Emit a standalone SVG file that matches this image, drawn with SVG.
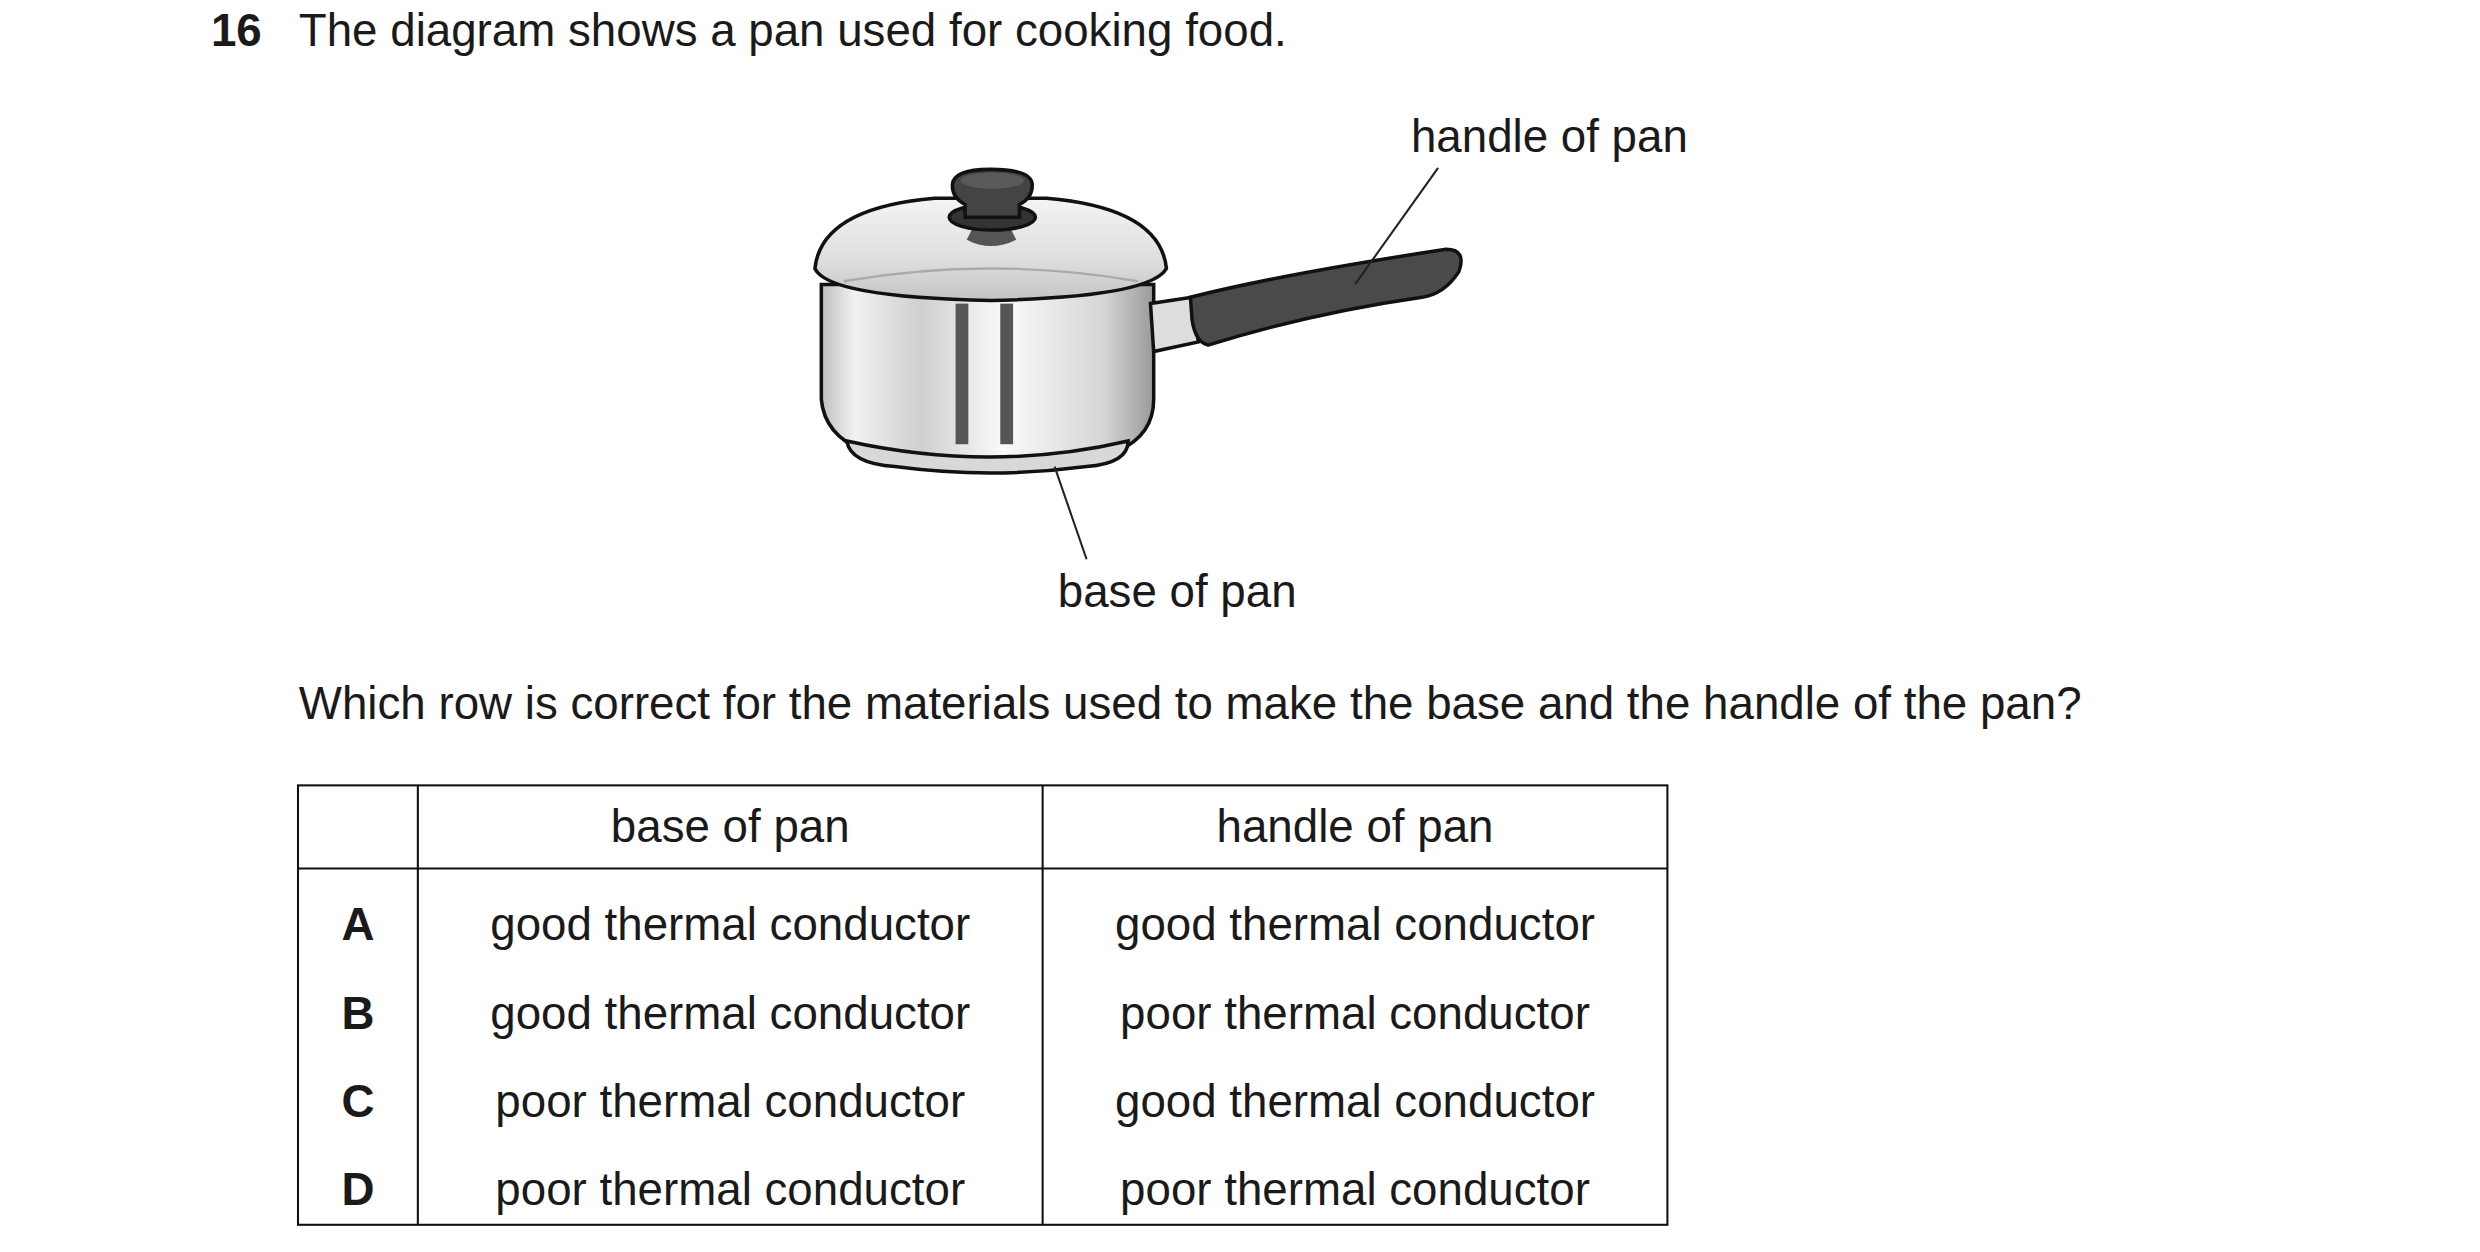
<svg xmlns="http://www.w3.org/2000/svg" width="2480" height="1252" viewBox="0 0 2480 1252">
<style>
text{font-family:"Liberation Sans",Arial,sans-serif;font-size:28.6px;fill:#1a1a1a}
.b{font-weight:bold}
.c{text-anchor:middle}
.ln{stroke:#222;stroke-width:1.3;fill:none}
.ol{stroke:#111;stroke-width:2.2}
</style>
<defs>
<linearGradient id="steel" x1="0" x2="1" y1="0" y2="0">
<stop offset="0" stop-color="#bdbdbd"/><stop offset="0.1" stop-color="#f2f2f2"/><stop offset="0.3" stop-color="#cfcfcf"/><stop offset="0.55" stop-color="#fafafa"/><stop offset="0.85" stop-color="#d5d5d5"/><stop offset="1" stop-color="#9a9a9a"/>
</linearGradient>
<linearGradient id="lid" x1="0" x2="0" y1="0" y2="1">
<stop offset="0" stop-color="#f4f4f4"/><stop offset="0.6" stop-color="#dedede"/><stop offset="1" stop-color="#c4c4c4"/>
</linearGradient>
</defs>
<rect width="2480" height="1252" fill="#fff"/>
<g transform="scale(1.5979)">
<g id="title"><text x="132" y="29" class="b">16</text><text x="187" y="29">The diagram shows a pan used for cooking food.</text></g>
<g id="pan">
<path class="ol" fill="url(#steel)" d="M514,178 L514,250 Q516,272 540,282 Q620,300 700,282 Q722,272 722,250 L722,178 Z"/>
<path class="ol" fill="#d8d8d8" d="M530,276 Q532,290 560,292 Q620,300 680,292 Q706,290 706,276 Q620,296 530,276 Z"/>
<rect x="598" y="190" width="8" height="88" fill="#555"/>
<rect x="626" y="190" width="8" height="88" fill="#555"/>
<path class="ol" fill="#ddd" d="M720,190 L746,186 L750,214 L722,220 Z"/>
<path class="ol" fill="#4a4a4a" d="M745,186 Q800,172 905,156 Q918,156 913,170 Q904,184 890,186 Q820,196 756,216 Q748,214 746,200 Z"/>
<path class="ol" fill="url(#lid)" d="M510,168 Q514,130 585,124 L655,124 Q726,130 730,168 Q720,186 620,188 Q518,186 510,168 Z"/>
<path d="M528,176 Q620,160 712,176" stroke="#aaa" stroke-width="1.5" fill="none"/>
<path d="M605,150 Q620,158 636,150 L632,142 L609,142 Z" fill="#555"/>
<ellipse cx="621" cy="136" rx="27" ry="8" fill="#333" class="ol"/>
<path class="ol" fill="#444" d="M596,116 Q596,106 620,106 Q646,106 646,116 Q646,124 638,128 L638,136 L604,136 L604,128 Q596,124 596,116 Z"/>
<ellipse cx="621" cy="113" rx="20" ry="5" fill="#5a5a5a"/>
</g>
<g id="connectors">
<line class="ln" x1="900" y1="105" x2="848" y2="178"/>
<line class="ln" x1="660" y1="292" x2="680" y2="350"/>
</g>
<g id="labels"><text x="883" y="95">handle of pan</text><text x="662" y="380">base of pan</text></g>
<g id="question"><text x="187" y="450">Which row is correct for the materials used to make the base and the handle of the pan?</text></g>
<g id="table">
<rect x="186.5" y="491.5" width="857" height="275" fill="none" stroke="#111" stroke-width="1.3"/>
<line x1="261.5" y1="491.5" x2="261.5" y2="766.5" stroke="#111" stroke-width="1.3"/>
<line x1="652.5" y1="491.5" x2="652.5" y2="766.5" stroke="#111" stroke-width="1.3"/>
<line x1="186.5" y1="543.5" x2="1043.5" y2="543.5" stroke="#111" stroke-width="1.3"/>
<text x="457" y="527" class="c">base of pan</text><text x="848" y="527" class="c">handle of pan</text>
<text x="224" y="588" class="c b">A</text><text x="457" y="588" class="c">good thermal conductor</text><text x="848" y="588" class="c">good thermal conductor</text>
<text x="224" y="644" class="c b">B</text><text x="457" y="644" class="c">good thermal conductor</text><text x="848" y="644" class="c">poor thermal conductor</text>
<text x="224" y="699" class="c b">C</text><text x="457" y="699" class="c">poor thermal conductor</text><text x="848" y="699" class="c">good thermal conductor</text>
<text x="224" y="754" class="c b">D</text><text x="457" y="754" class="c">poor thermal conductor</text><text x="848" y="754" class="c">poor thermal conductor</text>
</g>
</g>
</svg>
